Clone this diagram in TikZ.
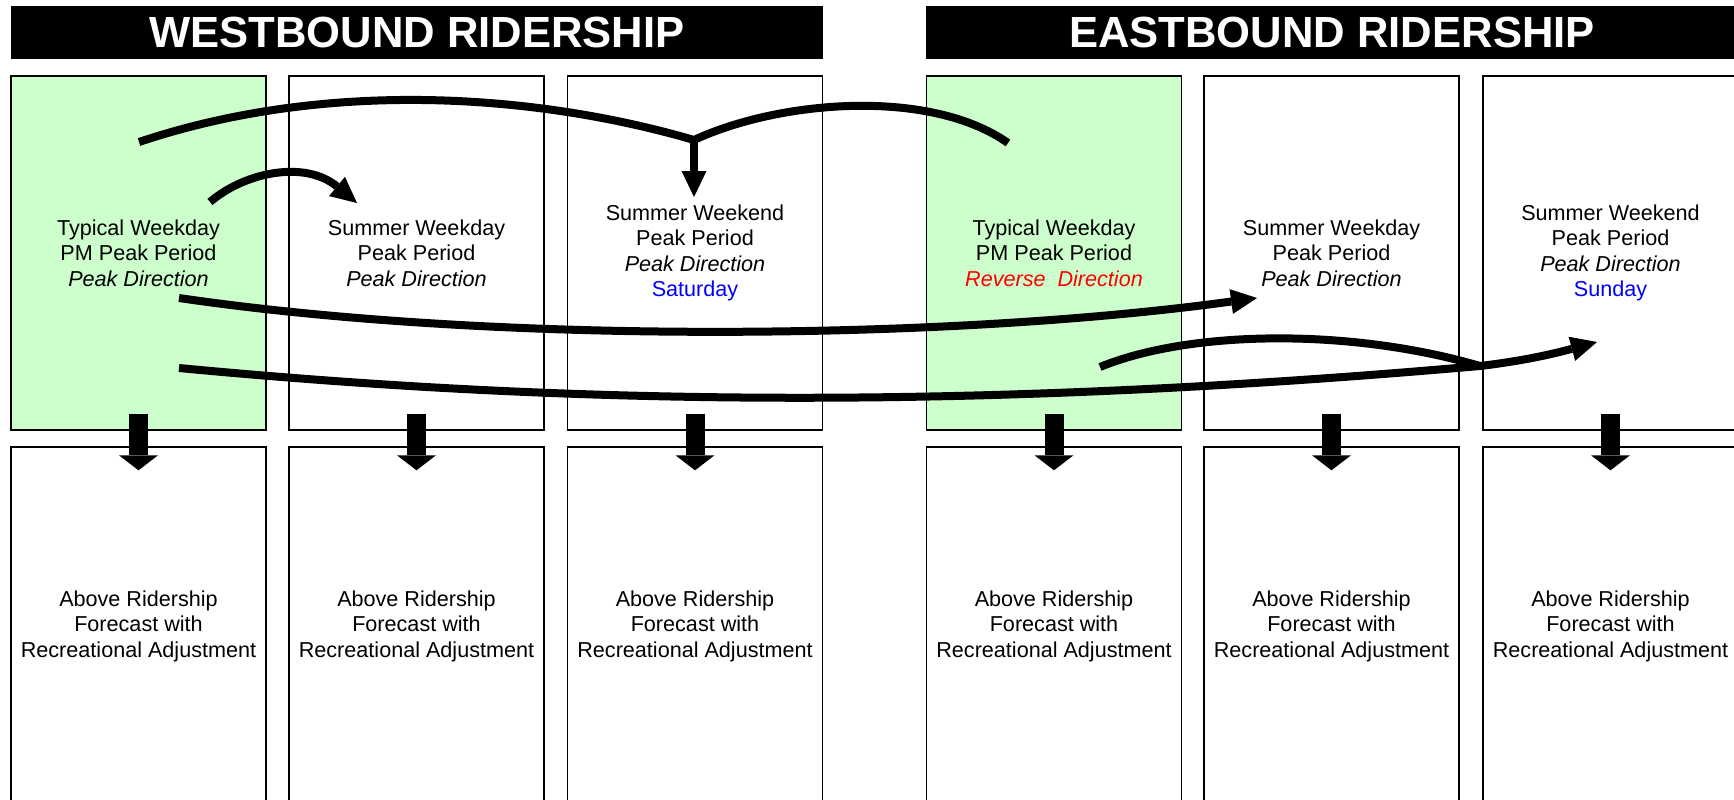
\documentclass[tikz,border=0pt]{standalone}
\usepackage{fontspec}
\setmainfont{Liberation Sans}
\usetikzlibrary{arrows.meta}
\definecolor{litegreen}{RGB}{204,255,204}

\begin{document}
\begin{tikzpicture}[x=0.5pt,y=-0.5pt,
        hdr/.style={fill=black,text=white,minimum width=406pt,minimum height=26.5pt,inner sep=0pt,font=\fontsize{21.8}{26}\selectfont\bfseries},
        tbox/.style={draw=black,line width=0.7pt,minimum width=127.5pt,minimum height=177pt,align=center,inner sep=0pt,font=\fontsize{10.8}{12.8}\selectfont},
        fbox/.style={tbox,minimum height=179pt},
        flow/.style={line width=4pt,-{Triangle[length=13pt,width=12.5pt,line width=0pt]}},
        bigarr/.style={line width=9.5pt,-{Triangle[length=7.5pt,width=19.5pt,line width=0pt]}}]
        \useasboundingbox (0,0) rectangle (1734,799);
        \clip (0,0) rectangle (1734,799);
        \fill[white] (0,0) rectangle (1734,799);
        \node[hdr] (wbhead) at (417,32.5) {WESTBOUND RIDERSHIP};
        \node[hdr] (ebhead) at (1332,32.5) {EASTBOUND RIDERSHIP};
        \node[tbox,fill=litegreen] (w1) at (138.5,253) {Typical Weekday\\PM Peak Period\\\textit{Peak Direction}};
        \node[tbox] (w2) at (416.5,253) {Summer Weekday\\Peak Period\\\textit{Peak Direction}};
        \node[tbox] (w3) at (695,253) {Summer Weekend\\Peak Period\\\textit{Peak Direction}\\\textcolor{blue}{Saturday}};
        \node[tbox,fill=litegreen] (e1) at (1054,253) {Typical Weekday\\PM Peak Period\\\textcolor{red}{\textit{Reverse~ Direction}}};
        \node[tbox] (e2) at (1331.5,253) {Summer Weekday\\Peak Period\\\textit{Peak Direction}};
        \node[tbox] (e3) at (1610.5,253) {Summer Weekend\\Peak Period\\\textit{Peak Direction}\\\textcolor{blue}{Sunday}};
        \node[fbox] (w1f) at (138.5,626) {Above Ridership\\Forecast with\\Recreational Adjustment};
        \node[fbox] (w2f) at (416.5,626) {Above Ridership\\Forecast with\\Recreational Adjustment};
        \node[fbox] (w3f) at (695,626) {Above Ridership\\Forecast with\\Recreational Adjustment};
        \node[fbox] (e1f) at (1054,626) {Above Ridership\\Forecast with\\Recreational Adjustment};
        \node[fbox] (e2f) at (1331.5,626) {Above Ridership\\Forecast with\\Recreational Adjustment};
        \node[fbox] (e3f) at (1610.5,626) {Above Ridership\\Forecast with\\Recreational Adjustment};
        \draw[bigarr] ([yshift=8.5pt]w1.south) -- ([yshift=-12pt]w1f.north);
        \draw[bigarr] ([yshift=8.5pt]w2.south) -- ([yshift=-12pt]w2f.north);
        \draw[bigarr] ([yshift=8.5pt]w3.south) -- ([yshift=-12pt]w3f.north);
        \draw[bigarr] ([yshift=8.5pt]e1.south) -- ([yshift=-12pt]e1f.north);
        \draw[bigarr] ([yshift=8.5pt]e2.south) -- ([yshift=-12pt]e2f.north);
        \draw[bigarr] ([yshift=8.5pt]e3.south) -- ([yshift=-12pt]e3f.north);
        \coordinate (wtop) at (139,142);
        \coordinate (split) at (694,140);
        \coordinate (etop) at (1008,143);
        \coordinate (sat) at (694,197);
        \coordinate (wmid) at (210,202);
        \coordinate (swd) at (357,203);
        \coordinate (wlow) at (179,298);
        \coordinate (ewd) at (1257,298);
        \coordinate (wbot) at (179,368);
        \coordinate (merge) at (1480,366);
        \coordinate (sun) at (1597,342);
        \coordinate (ebot) at (1100,367);
        \draw[line width=4pt] (wtop) .. controls (330,78) and (540,95) .. (split) .. controls (780,100) and (930,88) .. (etop);
        \draw[flow] (split) -- (sat);
        \draw[flow] (wmid) .. controls (245,172) and (305,160) .. (swd);
        \draw[flow] (wlow) .. controls (500,345) and (950,340) .. (ewd);
        \draw[flow] (wbot) .. controls (600,408) and (1000,408) .. (merge) .. controls (1530,360) and (1560,352) .. (sun);
        \draw[line width=4pt] (ebot) .. controls (1190,330) and (1350,328) .. (merge);
\end{tikzpicture}
\end{document}
